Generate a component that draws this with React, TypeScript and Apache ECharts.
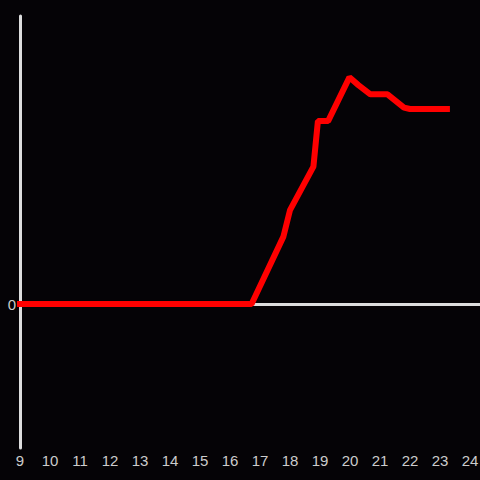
import React, { useEffect, useRef } from "react";
import * as echarts from "echarts";

const hours = [9, 16.72, 17.78, 18.0, 18.78, 18.93, 19.27, 19.98, 20.28, 20.68, 21.25, 21.8, 22.0, 23.23];
const values = [0, 0, 23.4, 32.6, 47.7, 63.5, 63.5, 78.7, 76, 72.8, 72.8, 68.2, 67.7, 67.7];
const xMin = 9;
const xMax = 24.333;
const yMin = -50;
const yMax = 100;

export default function App() {
  const ref = useRef<HTMLDivElement>(null);
  useEffect(() => {
    document.body.style.margin = "0";
    const chart = echarts.init(ref.current!, null, { renderer: "svg" });
    const data = hours.map((h, i) => [h, values[i]]);
    chart.setOption({
      animation: false,
      backgroundColor: "#050306",
      textStyle: { fontFamily: "Liberation Sans" },
      grid: { left: 20, right: 0, top: 16, bottom: 32, containLabel: false, outerBoundsMode: "none" },
      xAxis: [
        {
          type: "value",
          min: xMin,
          max: xMax,
          interval: 1,
          axisLine: { show: false, onZero: false },
          axisTick: { show: false },
          splitLine: { show: false },
          axisLabel: {
            color: "#cccccc",
            fontSize: 15,
            fontFamily: "Liberation Sans",
            margin: 5,
            formatter: (v: number) => (Math.abs(v - Math.round(v)) < 1e-6 ? String(Math.round(v)) : ""),
          },
        },
        {
          type: "value",
          min: xMin,
          max: xMax,
          position: "bottom",
          axisLine: { show: true, onZero: true, lineStyle: { color: "#dddddd", width: 3 } },
          axisTick: { show: false },
          splitLine: { show: false },
          axisLabel: { show: false },
        },
      ],
      yAxis: {
        type: "value",
        min: yMin,
        max: yMax,
        interval: 50,
        axisLine: { show: true, lineStyle: { color: "#dddddd", width: 3 } },
        axisTick: { show: false },
        splitLine: { show: false },
        axisLabel: {
          color: "#cccccc",
          fontSize: 15,
          fontFamily: "Liberation Sans",
          margin: 4,
          formatter: (v: number) => (v === 0 ? "0" : ""),
        },
      },
      series: [
        {
          type: "line",
          xAxisIndex: 0,
          data,
          showSymbol: false,
          symbol: "none",
          lineStyle: { color: "#ff0000", width: 6, cap: "square" },
          z: 5,
        },
      ],
    });
    return () => chart.dispose();
  }, []);
  return <div ref={ref} style={{ width: 480, height: 480 }} />;
}
